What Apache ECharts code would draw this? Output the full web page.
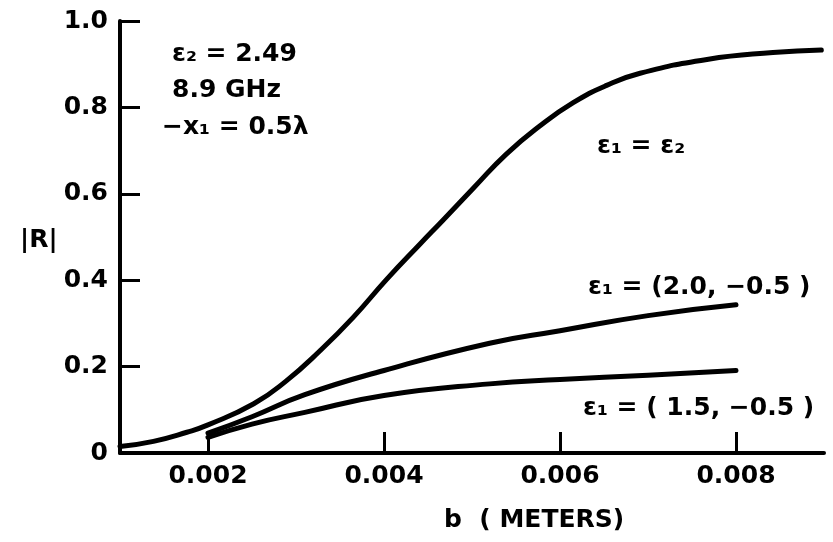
<!DOCTYPE html>
<html>
<head>
<meta charset="utf-8">
<script src="https://cdn.jsdelivr.net/npm/echarts@6/dist/echarts.min.js"></script>
<style>
html,body{margin:0;padding:0;background:#fff;}
#chart{width:833px;height:542px;}
</style>
</head>
<body>
<div id="chart"></div>
<script>
// b (meters) and |R| values
const bEqual = [0.0010, 0.00138, 0.00176, 0.0020, 0.00252, 0.00289, 0.00327, 0.00365, 0.00403, 0.00441, 0.00467, 0.00502, 0.00539, 0.00577, 0.00615, 0.00653, 0.00691, 0.00767, 0.00842, 0.00897];
const rEqual = [0.015, 0.027, 0.048, 0.065, 0.114, 0.167, 0.236, 0.314, 0.402, 0.484, 0.539, 0.614, 0.692, 0.757, 0.811, 0.851, 0.879, 0.911, 0.927, 0.933];

const bLossy = [0.0020, 0.0025, 0.0031, 0.0040, 0.0052, 0.0060, 0.0070, 0.0080];
const r20 = [0.046, 0.084, 0.135, 0.191, 0.254, 0.283, 0.318, 0.343];
const r15 = [0.036, 0.067, 0.094, 0.133, 0.160, 0.170, 0.180, 0.191];

const xTickValues = [0.002, 0.004, 0.006, 0.008];
const yTickValues = [0, 0.2, 0.4, 0.6, 0.8, 1.0];

const labelEqual = 'ε₁ = ε₂';
const label20 = 'ε₁ = (2.0, −0.5 )';
const label15 = 'ε₁ = ( 1.5, −0.5 )';
const infoLines = ['ε₂ = 2.49', '8.9 GHz', '−x₁ = 0.5λ'];
const xName = 'b  ( METERS)';
const yName = '|R|';

const FONT = 'DejaVu Sans';
const pair = (xs, ys) => xs.map((x, i) => [x, ys[i]]);

const chart = echarts.init(document.getElementById('chart'), null, {renderer: 'canvas'});
const lineStyle = {color: '#000', width: 5, cap: 'round', join: 'round'};
const textStyle = {fontFamily: FONT, fontWeight: 'bold', fontSize: 25, fill: '#000'};

chart.setOption({
  backgroundColor: '#fff',
  animation: false,
  grid: {left: 120, right: 9, top: 21, bottom: 89, containLabel: false},
  xAxis: {
    type: 'value', min: 0.001, max: 0.009, interval: 0.001,
    axisLine: {show: true, lineStyle: {color: '#000', width: 4, cap: 'round'}},
    axisTick: {show: true, inside: true, length: 21, customValues: xTickValues, lineStyle: {color: '#000', width: 3}},
    axisLabel: {customValues: xTickValues, margin: 11, color: '#000', fontFamily: FONT, fontWeight: 'bold', fontSize: 25,
      formatter: v => v.toFixed(3)},
    splitLine: {show: false}
  },
  yAxis: {
    type: 'value', min: 0, max: 1, interval: 0.2,
    axisLine: {show: true, lineStyle: {color: '#000', width: 4, cap: 'round'}},
    axisTick: {show: true, inside: true, length: 20, lineStyle: {color: '#000', width: 3}},
    axisLabel: {margin: 12, color: '#000', fontFamily: FONT, fontWeight: 'bold', fontSize: 25,
      formatter: v => v === 0 ? '0' : v.toFixed(1)},
    splitLine: {show: false}
  },
  series: [
    {type: 'line', name: labelEqual, data: pair(bEqual, rEqual), smooth: 0.5, showSymbol: false, lineStyle: lineStyle},
    {type: 'line', name: label20, data: pair(bLossy, r20), smooth: 0.5, showSymbol: false, lineStyle: lineStyle},
    {type: 'line', name: label15, data: pair(bLossy, r15), smooth: 0.5, showSymbol: false, lineStyle: lineStyle}
  ],
  graphic: [
    {type: 'text', left: 172, top: 42, style: Object.assign({text: infoLines[0]}, textStyle)},
    {type: 'text', left: 172, top: 78, style: Object.assign({text: infoLines[1]}, textStyle)},
    {type: 'text', left: 162, top: 115, style: Object.assign({text: infoLines[2]}, textStyle)},
    {type: 'text', left: 597, top: 134, style: Object.assign({text: labelEqual}, textStyle)},
    {type: 'text', left: 588, top: 275, style: Object.assign({text: label20}, textStyle)},
    {type: 'text', left: 583, top: 396, style: Object.assign({text: label15}, textStyle)},
    {type: 'text', left: 20, top: 228, style: Object.assign({text: yName}, textStyle)},
    {type: 'text', left: 444, top: 508, style: Object.assign({text: xName}, textStyle)}
  ]
});
</script>
</body>
</html>
